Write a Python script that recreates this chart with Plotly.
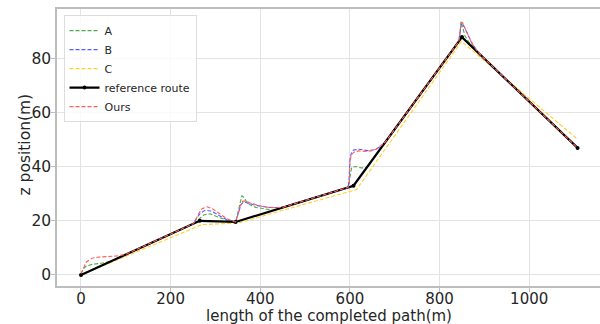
import plotly.graph_objects as go

# Reference route (vertices of the planned path)
route_x = [0, 265, 345, 608, 850, 1108]
route_z = [0, 20, 19.6, 33, 88, 47]

# Method A
a_x = [0, 5, 12, 25, 45, 65, 80, 100, 250, 255, 265, 275, 288, 305, 325, 345,
       350, 355, 359, 364, 370, 377, 390, 405, 430, 596, 599, 601, 604, 612, 625,
       635, 642, 650, 843, 846, 848, 851, 857, 866, 875, 885, 1108]
a_z = [0.3, 2.2, 3.3, 3.9, 4.3, 5.0, 6.0, 7.5, 18.9, 19.5, 21.0, 22.3, 22.6, 21.5, 20.2, 19.6,
       23.0, 27.5, 29.3, 28.5, 27.0, 26.0, 25.0, 24.6, 23.9, 32.4, 35.0, 38.0, 39.8, 40.1, 39.6,
       39.6, 40.2, 42.5, 86.4, 90.0, 93.8, 92.0, 88.3, 86.0, 84.6, 82.4, 47]

# Method B
b_x = [0, 250, 258, 266, 278, 292, 308, 325, 345, 351, 357, 363, 372, 385, 400, 420,
       445, 596, 598, 599, 600, 603, 608, 620, 640, 655, 668, 680, 690, 843, 845,
       847, 849, 853, 860, 870, 882, 892, 1108]
b_z = [0, 18.9, 21.0, 22.8, 24.0, 23.5, 22.0, 20.5, 19.6, 22.5, 26.0, 27.0, 26.7, 26.0, 25.4, 25.0,
       24.9, 32.4, 35.0, 39.0, 42.5, 45.0, 46.2, 46.5, 46.0, 46.3, 47.5, 49.3, 51.6, 86.4, 89.0,
       92.0, 93.0, 92.5, 90.0, 86.5, 83.2, 81.3, 47]

# Method C
c_x = [0, 270, 350, 615, 849, 1108]
c_z = [0, 18.6, 19.2, 31.6, 86.4, 50.2]

# Our method
ours_x = [0, 5, 12, 25, 40, 60, 80, 100, 250, 255, 262, 270, 282, 295, 310, 325, 340, 345,
          350, 355, 361, 368, 378, 390, 405, 415, 432, 450, 596, 599, 599, 599.5, 601, 604,
          610, 620, 638, 650, 660, 670, 678, 686, 843, 845, 846, 848, 851, 857, 865, 872,
          882, 894, 1108]
ours_z = [0.5, 2.5, 4.8, 6.2, 6.6, 6.8, 7.0, 7.6, 18.9, 20.0, 22.5, 24.5, 25.2, 24.3, 22.5, 20.8, 19.8, 19.6,
          22.0, 25.5, 27.3, 27.3, 26.6, 25.9, 25.3, 25.1, 24.9, 25.0, 32.4, 34.0, 37.0, 40.0, 43.0, 44.6,
          45.5, 45.9, 45.7, 46.0, 46.6, 47.8, 49.0, 50.7, 86.4, 88.5, 91.0, 93.2, 93.4, 91.4, 88.3, 85.8,
          83.3, 81.0, 47]

x_ticks = [0, 200, 400, 600, 800, 1000]
z_ticks = [0, 20, 40, 60, 80]

FONT = "DejaVu Sans"
TXT = "#262626"
dash = "4px,2px"

fig = go.Figure()
fig.add_trace(go.Scatter(x=a_x, y=a_z, mode="lines", name="A",
                         line=dict(color="#4cae4c", width=1.1, dash=dash)))
fig.add_trace(go.Scatter(x=b_x, y=b_z, mode="lines", name="B",
                         line=dict(color="#5a5aff", width=1.1, dash=dash)))
fig.add_trace(go.Scatter(x=c_x, y=c_z, mode="lines", name="C",
                         line=dict(color="#ffd02a", width=1.1, dash=dash)))
fig.add_trace(go.Scatter(x=route_x, y=route_z, mode="lines+markers", name="reference route",
                         line=dict(color="black", width=2.2),
                         marker=dict(color="black", size=4)))
fig.add_trace(go.Scatter(x=ours_x, y=ours_z, mode="lines", name="Ours",
                         line=dict(color="#ff5c5c", width=1.1, dash=dash)))

fig.update_layout(
    width=600, height=324,
    margin=dict(l=57, r=0, t=9, b=38),
    paper_bgcolor="white", plot_bgcolor="white",
    font=dict(family=FONT, size=15, color=TXT),
    showlegend=True,
    legend=dict(x=0.012, y=0.978, xanchor="left", yanchor="top",
                bgcolor="rgba(255,255,255,0.8)", bordercolor="#dddddd", borderwidth=1,
                font=dict(family=FONT, size=11, color=TXT),
                itemwidth=30, tracegroupgap=0),
    annotations=[
        dict(text="length of the completed path(m)", xref="paper", yref="paper",
             x=0.5, y=0, xanchor="center", yanchor="middle", yshift=-30, borderpad=0,
             showarrow=False, font=dict(family=FONT, size=15, color=TXT)),
        dict(text="z position(m)", xref="paper", yref="paper",
             x=0, y=0.5, xanchor="center", yanchor="middle", xshift=-33, yshift=3,
             textangle=-90, showarrow=False, font=dict(family=FONT, size=15.5, color=TXT)),
    ],
)
fig.update_xaxes(
    range=[-53.5, 1158], tickvals=x_ticks, ticktext=[str(v) for v in x_ticks],
    showgrid=True, gridcolor="#e3e3e3", gridwidth=1, zeroline=False,
    showline=True, linecolor="#bdbdbd", linewidth=1.5, mirror=True,
    ticks="outside", ticklen=4, tickcolor="#bdbdbd",
    tickfont=dict(size=15), ticklabelstandoff=-6,
)
fig.update_yaxes(
    range=[-4.1, 98.4], tickvals=z_ticks, ticktext=[str(v) for v in z_ticks],
    showgrid=True, gridcolor="#e3e3e3", gridwidth=1, zeroline=False,
    showline=True, linecolor="#bdbdbd", linewidth=1.5, mirror=False,
    ticks="outside", ticklen=4, tickcolor="#bdbdbd",
    tickfont=dict(size=15.5), ticklabelstandoff=-3,
)

fig.write_html("out.html")
